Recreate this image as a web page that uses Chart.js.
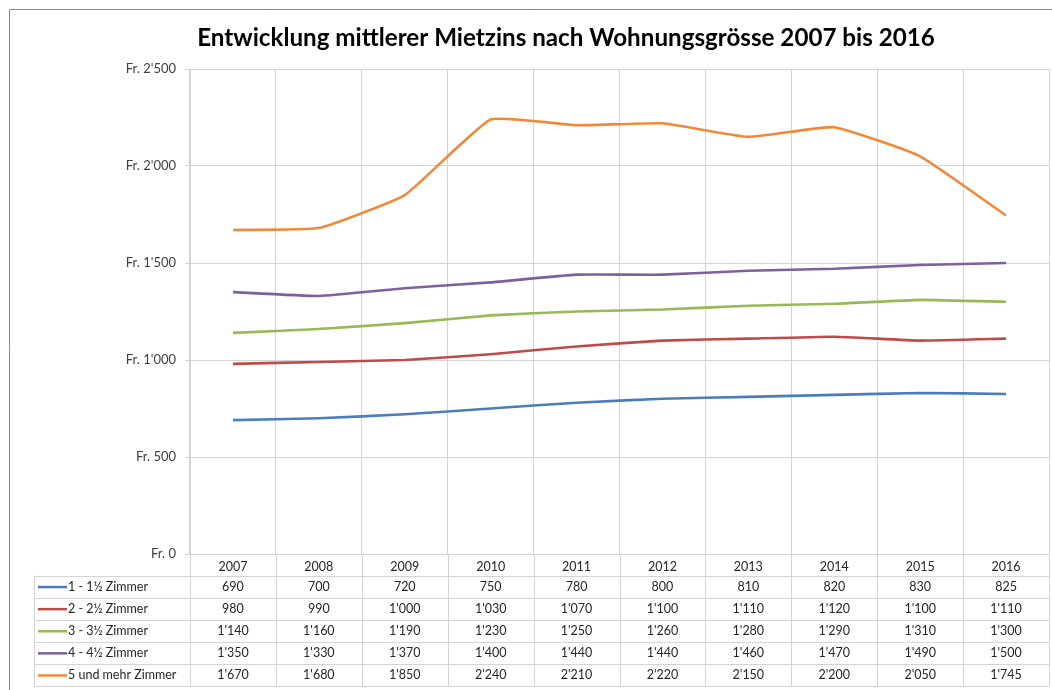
<!DOCTYPE html>
<html>
<head>
<meta charset="utf-8">
<script src="https://cdn.jsdelivr.net/npm/chart.js@4"></script>
<style>
html,body{margin:0;padding:0;background:#fff;}
#wrap{width:1052px;height:690px;}
</style>
</head>
<body>
<div id="wrap"><canvas id="c" width="1052" height="690"></canvas></div>
<script>
const titleText = "Entwicklung mittlerer Mietzins nach Wohnungsgrösse 2007 bis 2016";
const categories = ["2007","2008","2009","2010","2011","2012","2013","2014","2015","2016"];
const seriesNames = ["1 - 1½ Zimmer","2 - 2½ Zimmer","3 - 3½ Zimmer","4 - 4½ Zimmer","5 und mehr Zimmer"];
const zimmer1 = [690,700,720,750,780,800,810,820,830,825];
const zimmer2 = [980,990,1000,1030,1070,1100,1110,1120,1100,1110];
const zimmer3 = [1140,1160,1190,1230,1250,1260,1280,1290,1310,1300];
const zimmer4 = [1350,1330,1370,1400,1440,1440,1460,1470,1490,1500];
const zimmer5 = [1670,1680,1850,2240,2210,2220,2150,2200,2050,1745];
const yTicks = [0,500,1000,1500,2000,2500];

const seriesValues = [zimmer1,zimmer2,zimmer3,zimmer4,zimmer5];
const colors = ["#4A7EBB","#BE4B48","#98B954","#7D60A0","#F08A3A"];
const FONT = "Lato, 'Open Sans', sans-serif";

function fmt(v){
  const s = String(Math.round(v));
  return s.replace(/\B(?=(\d{3})+(?!\d))/g, "'");
}

const framePlugin = {
  id:'frame',
  beforeDraw(chart){
    const ctx = chart.ctx;
    ctx.save();
    ctx.fillStyle = '#fff';
    ctx.fillRect(0,0,chart.width,chart.height);
    ctx.strokeStyle = '#8a8a8a';
    ctx.lineWidth = 1;
    ctx.beginPath();
    ctx.moveTo(9.5, chart.height+2);
    ctx.lineTo(9.5, 9.5);
    ctx.lineTo(chart.width+2, 9.5);
    ctx.stroke();
    ctx.fillStyle = '#000';
    ctx.font = "bold 24.2px " + FONT;
    ctx.textAlign = 'center';
    ctx.textBaseline = 'alphabetic';
    ctx.fillText(titleText, 566, 46);
    ctx.restore();
  }
};

const tablePlugin = {
  id:'dataTable',
  afterDraw(chart){
    const {ctx, chartArea:ca, scales:{x}} = chart;
    const n = categories.length;
    const bounds = [];
    for(let i=0;i<=n;i++){
      if(i===0) bounds.push(ca.left);
      else if(i===n) bounds.push(ca.right);
      else bounds.push((x.getPixelForValue(i-1)+x.getPixelForValue(i))/2);
    }
    const headerH = 21.5;
    const rowH = 22.1;
    const tableTop = ca.bottom + headerH;
    const tableBottom = tableTop + rowH*seriesValues.length;
    const legendLeft = 34;
    ctx.save();
    ctx.strokeStyle = '#d4d4d4';
    ctx.lineWidth = 1;
    ctx.beginPath();
    for(let i=0;i<=n;i++){
      const bx = Math.round(bounds[i])+0.5;
      ctx.moveTo(bx, ca.bottom);
      ctx.lineTo(bx, tableBottom);
    }
    ctx.moveTo(legendLeft+0.5, tableTop);
    ctx.lineTo(legendLeft+0.5, tableBottom);
    for(let r=0;r<=seriesValues.length;r++){
      const yy = Math.round(tableTop + r*rowH)+0.5;
      ctx.moveTo(legendLeft, yy);
      ctx.lineTo(ca.right+1, yy);
    }
    ctx.stroke();

    ctx.font = "12.5px " + FONT;
    ctx.textBaseline = 'middle';
    for(let r=0;r<seriesValues.length;r++){
      const cy = tableTop + r*rowH + rowH/2 + 0.5;
      ctx.strokeStyle = colors[r];
      ctx.lineWidth = 2.5;
      ctx.beginPath();
      ctx.moveTo(38, cy);
      ctx.lineTo(67, cy);
      ctx.stroke();
      ctx.fillStyle = '#262626';
      ctx.textAlign = 'left';
      ctx.fillText(seriesNames[r], 68, cy);
      ctx.textAlign = 'center';
      for(let i=0;i<n;i++){
        ctx.fillText(fmt(seriesValues[r][i]), x.getPixelForValue(i), cy);
      }
    }
    ctx.restore();
  }
};

const datasets = seriesNames.map((name,i)=>({
  label:name,
  data:seriesValues[i],
  borderColor:colors[i],
  backgroundColor:colors[i],
  borderWidth:2.6,
  pointRadius:0,
  tension:0.12,
  fill:false
}));

new Chart(document.getElementById('c'),{
  type:'line',
  data:{labels:categories, datasets},
  options:{
    responsive:false,
    animation:false,
    devicePixelRatio:1,
    layout:{padding:{left:0,right:3,top:69,bottom:0}},
    plugins:{legend:{display:false},tooltip:{enabled:false},title:{display:false}},
    scales:{
      x:{
        offset:true,
        grid:{offset:true,color:'#d4d4d4',lineWidth:1,drawTicks:false,tickLength:0},
        border:{display:true,color:'#d4d4d4'},
        ticks:{color:'#262626',font:{family:FONT,size:12.5},padding:5,maxRotation:0,autoSkip:false},
        afterFit(scale){ scale.height = 136; }
      },
      y:{
        min:0,max:2500,
        afterBuildTicks(scale){ scale.ticks = yTicks.map(v=>({value:v})); },
        grid:{color:'#d4d4d4',lineWidth:1,tickLength:5},
        border:{display:true,color:'#d4d4d4'},
        ticks:{color:'#404040',font:{family:FONT,size:13},padding:9,callback:(v)=>'Fr. '+fmt(v)},
        afterFit(scale){ scale.width = 190; }
      }
    }
  },
  plugins:[framePlugin, tablePlugin]
});
</script>
</body>
</html>
